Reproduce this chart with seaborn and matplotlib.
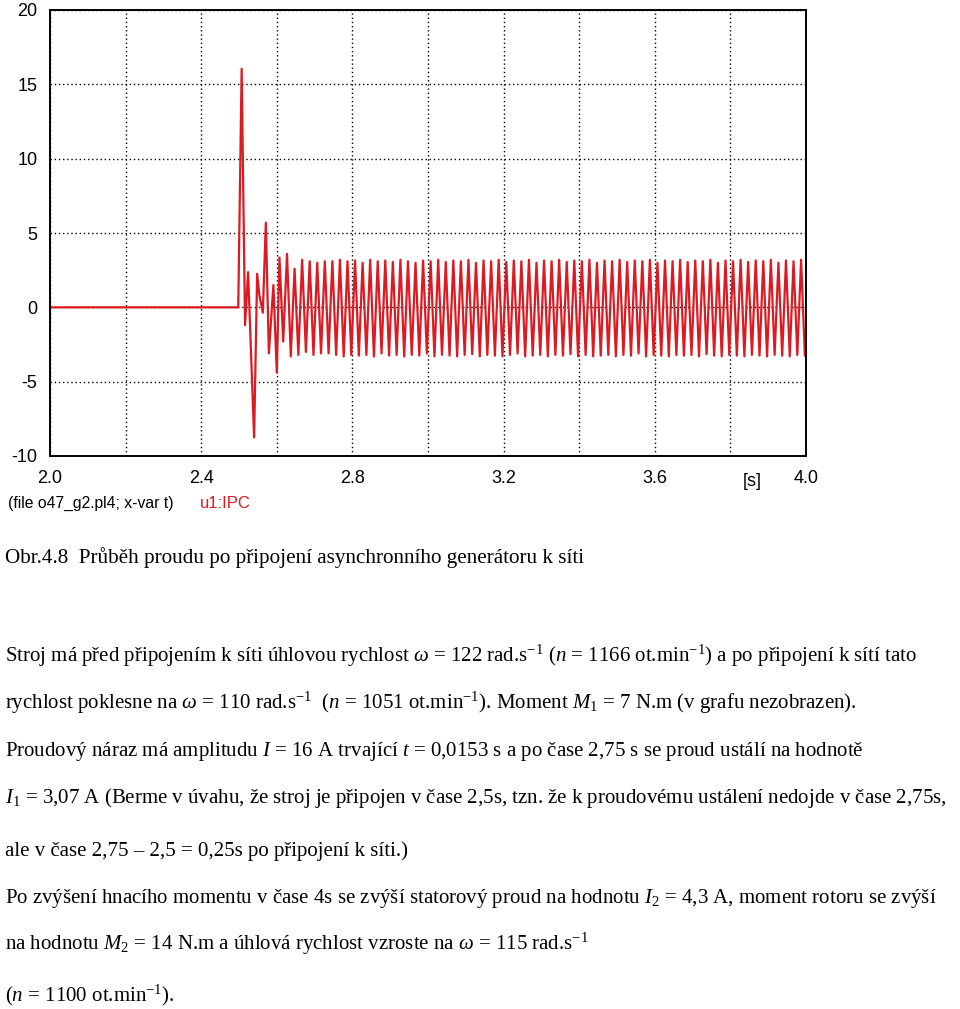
import numpy as np
import matplotlib
matplotlib.use("Agg")
import matplotlib.pyplot as plt
import seaborn as sns

# ---------------- data ----------------
# transient after connection (time [s], current [A])
t_transient = [2.0, 2.498, 2.507, 2.516, 2.524, 2.540, 2.548, 2.554, 2.563,
               2.571, 2.579, 2.591, 2.600]
i_transient = [0.0, 0.0, 16.05, -1.2, 2.37, -8.75, 2.26, 0.8, -0.36,
               5.7, -3.1, 1.5, -4.4]

# steady-state oscillation, alternating peak / trough readings
steady_start = 2.607
steady_step = 0.01
i_steady = [
    3.35, -2.3, 3.6, -3.3, 2.6, -3.2, 3.2, -3.0, 3.1, -3.2,
    3.0, -3.1, 3.1, -3.1, 3.1, -3.2, 3.2, -3.3, 3.1, -3.2,
    3.15, -3.25, 3.0, -3.2, 3.2, -3.3, 3.1, -3.1, 3.15, -3.25,
    3.05, -3.2, 3.2, -3.3, 3.1, -3.2, 3.0, -3.25, 3.15, -3.1,
    3.1, -3.3, 3.2, -3.2, 3.05, -3.25, 3.15, -3.3, 3.1, -3.2,
    3.2, -3.15, 3.0, -3.3, 3.15, -3.2, 3.1, -3.25, 3.2, -3.3,
    3.05, -3.2, 3.15, -3.1, 3.1, -3.3, 3.2, -3.25, 3.0, -3.2,
    3.15, -3.3, 3.1, -3.2, 3.2, -3.25, 3.05, -3.15, 3.15, -3.3,
    3.1, -3.2, 3.2, -3.3, 3.0, -3.25, 3.15, -3.2, 3.1, -3.3,
    3.2, -3.2, 3.05, -3.25, 3.15, -3.1, 3.1, -3.3, 3.2, -3.2,
    3.0, -3.25, 3.15, -3.3, 3.1, -3.2, 3.2, -3.25, 3.05, -3.2,
    3.15, -3.3, 3.1, -3.15, 3.2, -3.25, 3.0, -3.3, 3.15, -3.2,
    3.1, -3.25, 3.2, -3.3, 3.05, -3.2, 3.15, -3.25, 3.1, -3.3,
    3.2, -3.2, 3.0, -3.25, 3.15, -3.3, 3.1, -3.2, 3.2, -3.25,
]
t_steady = steady_start + steady_step * np.arange(len(i_steady))

t_all = np.concatenate([t_transient, t_steady])
i_all = np.concatenate([i_transient, i_steady])

x_ticks = [2.0, 2.2, 2.4, 2.6, 2.8, 3.0, 3.2, 3.4, 3.6, 3.8, 4.0]
x_ticklabels = ["2.0", "", "2.4", "", "2.8", "", "3.2", "", "3.6", "", "4.0"]
y_ticks = [-10, -5, 0, 5, 10, 15, 20]
y_ticklabels = ["-10", "-5", "0", "5", "10", "15", "20"]

caption = "Obr.4.8  Průběh proudu po připojení asynchronního generátoru k síti"
body_lines = [
    r"Stroj má před připojením k síti úhlovou rychlost $\omega$ = 122 rad.s$^{\mathrm{-1}}$ ($\mathit{n}$ = 1166 ot.min$^{\mathrm{-1}}$) a po připojení k sítí tato",
    r"rychlost poklesne na $\omega$ = 110 rad.s$^{\mathrm{-1}}$  ($\mathit{n}$ = 1051 ot.min$^{\mathrm{-1}}$). Moment $\mathit{M}_{\mathit{1}}$ = 7 N.m (v grafu nezobrazen).",
    r"Proudový náraz má amplitudu $\mathit{I}$ = 16 A trvající $\mathit{t}$ = 0,0153 s a po čase 2,75 s se proud ustálí na hodnotě",
    r"$\mathit{I}_{\mathrm{1}}$ = 3,07 A (Berme v úvahu, že stroj je připojen v čase 2,5s, tzn. že k proudovému ustálení nedojde v čase 2,75s,",
    "ale v čase 2,75 – 2,5 = 0,25s po připojení k síti.)",
    r"Po zvýšení hnacího momentu v čase 4s se zvýší statorový proud na hodnotu $\mathit{I}_{\mathrm{2}}$ = 4,3 A, moment rotoru se zvýší",
    r"na hodnotu $\mathit{M}_{\mathrm{2}}$ = 14 N.m a úhlová rychlost vzroste na $\omega$ = 115 rad.s$^{\mathrm{-1}}$",
    r"($\mathit{n}$ = 1100 ot.min$^{\mathrm{-1}}$).",
]

# ---------------- style ----------------
sns.set_theme(style="white")
plt.rcParams["font.family"] = ["Liberation Sans", "DejaVu Sans"]
plt.rcParams["mathtext.fontset"] = "custom"
plt.rcParams["mathtext.rm"] = "Liberation Serif"
plt.rcParams["mathtext.it"] = "Liberation Serif:italic"
plt.rcParams["mathtext.bf"] = "Liberation Serif:bold"

W, H = 960, 1009
fig = plt.figure(figsize=(W / 100, H / 100), dpi=100)
fig.patch.set_facecolor("white")

ax = fig.add_axes([50 / W, 1 - 456 / H, 756 / W, 446 / H])
ax.set_facecolor("white")

red = "#dd1a22"
sns.lineplot(x=t_all, y=i_all, ax=ax, color=red, linewidth=1.6,
             estimator=None, sort=False)

ax.set_xlim(2.0, 4.0)
ax.set_ylim(-10, 20)
ax.set_xticks(x_ticks)
ax.set_xticklabels(x_ticklabels)
ax.set_yticks(y_ticks)
ax.set_yticklabels(y_ticklabels)
ax.tick_params(axis="both", direction="out", length=8, width=1.3,
               color="black", labelsize=13, labelcolor="black", pad=2)
ax.tick_params(axis="y", pad=1)
ax.grid(True, color="black", linestyle=(0, (1, 2)), linewidth=1.0)
ax.set_axisbelow(True)
for side in ["left", "right", "top", "bottom"]:
    ax.spines[side].set_visible(True)
    ax.spines[side].set_color("black")
    ax.spines[side].set_linewidth(1.4)
ax.set_xlabel("")
ax.set_ylabel("")

# axis unit
fig.text(752 / W, 1 - 482 / H, "[s]", ha="center", va="center",
         fontsize=13, color="black")

# file header
fig.text(8 / W, 1 - 503 / H, "(file o47_g2.pl4; x-var t)", ha="left",
         va="center", fontsize=11.3, color="black")
fig.text(200 / W, 1 - 503 / H, "u1:IPC", ha="left", va="center",
         fontsize=12, color=red)

# caption and body text
serif = ["Liberation Serif", "DejaVu Serif"]
fig.text(5 / W, 1 - 563 / H, caption, ha="left", va="baseline",
         fontsize=15.2, family=serif, color="black")
baselines = [662, 709, 756, 803, 856, 903, 950, 1001]
for line, yb in zip(body_lines, baselines):
    fig.text(5 / W, 1 - yb / H, line, ha="left", va="baseline",
             fontsize=15, family=serif, color="black")

fig.savefig("out.png", dpi=100, facecolor="white")
